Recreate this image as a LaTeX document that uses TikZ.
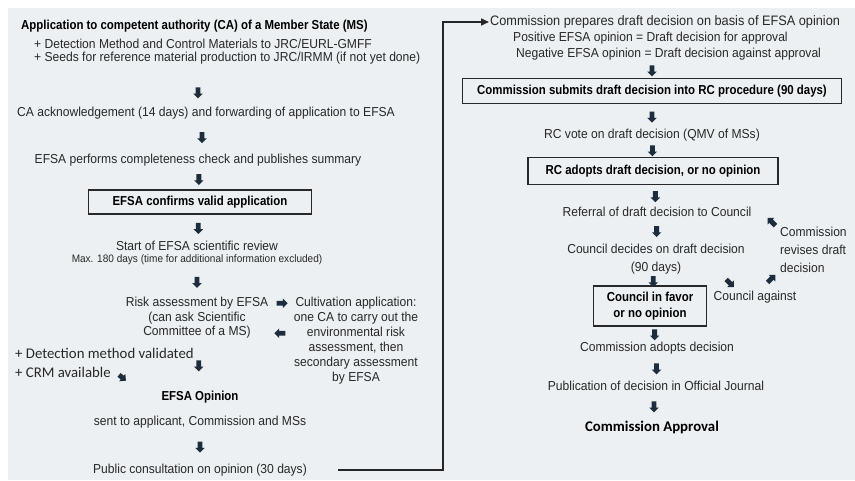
\documentclass[tikz,border=0pt]{standalone}
\usepackage{fontspec}
\setmainfont[FakeStretch=0.93, BoldFeatures={FakeStretch=0.88}]{Liberation Sans}
\newfontfamily\calfont{Carlito}
\usetikzlibrary{shapes.arrows,arrows.meta}

\definecolor{panel}{RGB}{236,240,242}
\definecolor{ink}{RGB}{40,40,40}
\definecolor{navy}{RGB}{30,45,62}

\tikzset{
  txt/.style={text=ink, font=\fontsize{13}{15}\selectfont, inner sep=1pt, align=center},
  hd/.style={txt, text=black, font=\bfseries\fontsize{13}{15}\selectfont},
  note/.style={txt, font=\fontsize{10.8}{12}\selectfont},
  cal/.style={txt, font=\calfont\fontsize{14.8}{15}\selectfont},
  box/.style={hd, draw=ink, line width=1.1pt},
  blk/.style={single arrow, fill=navy, draw=none, inner xsep=0pt, inner ysep=2.2pt, minimum height=11, single arrow head extend=2.4pt},
  dn/.style={blk, rotate=-90},
  conn/.style={draw=black!85, line width=1.6pt, -{Triangle[length=8pt,width=7pt]}}
}

\begin{document}
\begin{tikzpicture}[x=1pt,y=-1pt]
\useasboundingbox (0,0) rectangle (855,480);
\path[fill=panel] (8,8) rectangle (855,480);

% left column
\node[hd, anchor=west] (app) at (20,26) {Application to competent authority (CA) of a Member State (MS)};
\node[txt, align=left, anchor=north west, font=\fontsize{13}{13}\selectfont] (req) at (33,38) {+ Detection Method and Control Materials to JRC/EURL-GMFF\\+ Seeds for reference material production to JRC/IRMM (if not yet done)};
\node[txt] (ack) at (206,113) {CA acknowledgement (14 days) and forwarding of application to EFSA};
\node[txt] (chk) at (198,160) {EFSA performs completeness check and publishes summary};
\node[box, minimum width=223, minimum height=24] (valid) at (200,202) {EFSA confirms valid application};
\node[txt] (start) at (197,246) {Start of EFSA scientific review};
\node[note] (max) at (197,260) {Max. 180 days (time for additional information excluded)};
\node[txt, font=\fontsize{13}{14.5}\selectfont] (risk) at (197,318) {Risk assessment by EFSA\\(can ask Scientific\\Committee of a MS)};
\node[txt] (cult) at (356,341) {Cultivation application:\\one CA to carry out the\\environmental risk\\assessment, then\\secondary assessment\\by EFSA};
\node[cal, anchor=west] (dmv) at (14,353) {+ Detection method validated};
\node[cal, anchor=west] (crm) at (14,372) {+ CRM available};
\node[hd] (op) at (200,397) {EFSA Opinion};
\node[txt] (sent) at (200,422) {sent to applicant, Commission and MSs};
\node[txt] (pub) at (200,470) {Public consultation on opinion (30 days)};

\path (req.south -| chk) -- (ack.north -| chk) node[pos=.65, dn] {};
\path (ack) -- (chk) node[midway, dn] {};
\path (chk) -- (valid) node[midway, dn] {};
\path (valid) -- (start) node[midway, dn] {};
\path (max) -- (risk) node[midway, dn] {};
\path (risk) -- (op) node[midway, dn] {};
\path (sent) -- (pub) node[midway, dn] {};
\path ([yshift=-7]risk.north east) -- ([yshift=-7]cult.north west) node[midway, blk] {};
\path ([yshift=-37]cult.north west) -- ([yshift=-37]risk.north east) node[midway, blk, rotate=180] {};
\path (crm.east) -- (op.west) node[pos=.2, blk, rotate=-40, minimum height=9] {};

% right column
\node[txt, anchor=west, font=\fontsize{13.7}{15}\selectfont] (prep) at (489,22) {Commission prepares draft decision on basis of EFSA opinion};
\node[txt, anchor=west] (posi) at (512,38) {Positive EFSA opinion = Draft decision for approval};
\node[txt, anchor=west] (nega) at (515,54) {Negative EFSA opinion = Draft decision against approval};
\node[box, minimum width=379, minimum height=25] (sub) at (652,91) {Commission submits draft decision into RC procedure (90 days)};
\node[txt] (vote) at (652,135) {RC vote on draft decision (QMV of MSs)};
\node[box, minimum width=250, minimum height=27] (rcad) at (653,171) {RC adopts draft decision, or no opinion};
\node[txt] (refc) at (657,212) {Referral of draft decision to Council};
\node[txt, font=\fontsize{13}{18}\selectfont] (dec) at (656,259) {Council decides on draft decision\\(90 days)};
\node[box, minimum width=113, minimum height=40, font=\bfseries\fontsize{13}{16.5}\selectfont] (fav) at (650,306) {Council in favor\\or no opinion};
\node[txt] (against) at (755,297) {Council against};
\node[txt, align=left, anchor=west, font=\fontsize{13}{18}\selectfont] (rev) at (779,250) {Commission\\revises draft\\decision};
\node[txt] (adopt) at (657,348) {Commission adopts decision};
\node[txt] (publ) at (656,386) {Publication of decision in Official Journal};
\node[hd, font=\calfont\bfseries\fontsize{14.8}{15}\selectfont] (appr) at (652,427) {Commission Approval};

\path (nega.south -| sub) -- (sub) node[midway, dn] {};
\path (sub) -- (vote) node[midway, dn] {};
\path (vote) -- (rcad) node[midway, dn] {};
\path (rcad) -- (refc) node[midway, dn] {};
\path (refc) -- (dec) node[midway, dn] {};
\path (dec) -- (fav) node[midway, dn] {};
\path (fav) -- (adopt) node[midway, dn] {};
\path (adopt) -- (publ) node[midway, dn] {};
\path (publ) -- (appr) node[midway, dn] {};
\path (dec.south east) -- (against.north west) node[midway, blk, rotate=-45] {};
\path (against.north) -- (rev.south west) node[pos=.65, blk, rotate=45] {};
\path (rev.north west) -- (refc.east) node[pos=.25, blk, rotate=135] {};

\coordinate (bend) at (443,470);
\draw[conn, shorten <=30pt] (pub.east) -- (bend) |- (prep.west);
\end{tikzpicture}
\end{document}
